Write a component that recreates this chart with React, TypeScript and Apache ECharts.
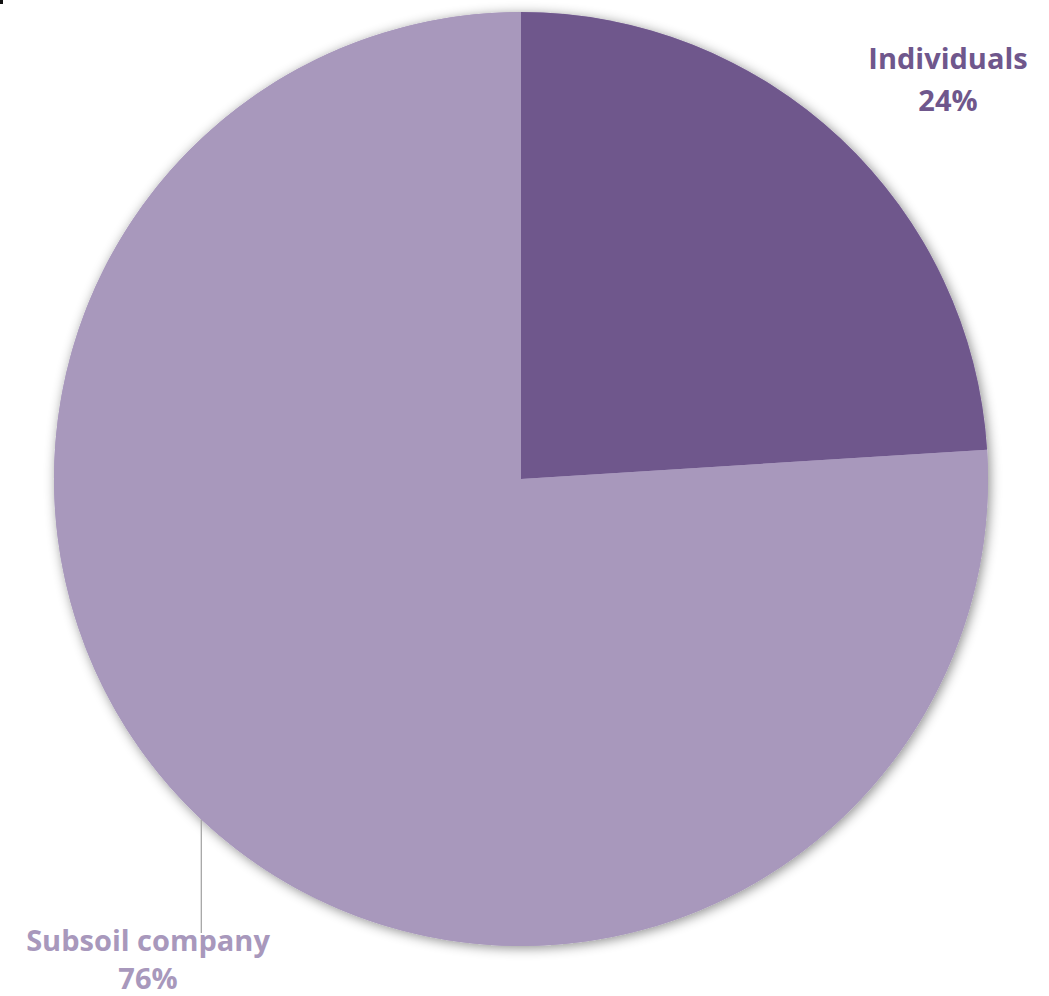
import React, { useEffect, useRef } from "react";
import * as echarts from "echarts";

const categories = ["Individuals", "Subsoil company"];
const shares = [24, 76];
const sliceColors = ["#6f578c", "#a898bc"];

export default function App() {
  const ref = useRef<HTMLDivElement>(null);
  useEffect(() => {
    if (!ref.current) return;
    const chart = echarts.init(ref.current, null, { renderer: "svg" });
    const data = categories.map((name, i) => ({
      name,
      value: shares[i],
      itemStyle: { color: sliceColors[i] },
      label: { color: sliceColors[i], lineHeight: i === 1 ? 38 : 42 },
      labelLine: { show: i === 1 },
    }));
    chart.setOption({
      animation: false,
      backgroundColor: "#ffffff",
      graphic: [
        { type: "rect", left: 0, top: 0, shape: { width: 3, height: 4 }, style: { fill: "#111" } },
      ],
      series: [
        {
          type: "pie",
          silent: true,
          center: [521, 479],
          radius: 467,
          z: 1,
          label: { show: false },
          labelLine: { show: false },
          itemStyle: {
            color: "#a898bc",
            shadowBlur: 12,
            shadowColor: "rgba(0,0,0,0.45)",
            shadowOffsetX: 2,
            shadowOffsetY: 2,
          },
          data: [{ name: "shadow", value: 1 }],
        },
        {
          type: "pie",
          center: [521, 479],
          radius: 467,
          startAngle: 90,
          clockwise: true,
          z: 2,
          itemStyle: { borderWidth: 0 },
          label: {
            show: true,
            position: "outside",
            formatter: (p: any) => `${p.name}\n${p.value}%`,
            fontFamily: "Open Sans",
            fontWeight: "bold",
            fontSize: 29,
            lineHeight: 42,
            align: "center",
            overflow: "none",
            width: 400,
          },
          labelLine: {
            show: true,
            lineStyle: { color: "#a6a6a6", width: 1.3 },
          },
          labelLayout: (params: any) => {
            if (params.dataIndex === 0) {
              return { x: 948, y: 78, align: "center", verticalAlign: "middle" };
            }
            const p0 = params.labelLinePoints ? params.labelLinePoints[0] : [201, 820];
            return {
              x: 148,
              y: 958,
              align: "center",
              verticalAlign: "middle",
              labelLinePoints: [
                [p0[0], p0[1]],
                [p0[0], (p0[1] + 933) / 2],
                [p0[0], 933],
              ],
            };
          },
          data,
        },
      ],
    });
    return () => chart.dispose();
  }, []);
  return (
    <div
      ref={ref}
      style={{ position: "absolute", left: 0, top: 0, width: 1049, height: 996 }}
    />
  );
}
